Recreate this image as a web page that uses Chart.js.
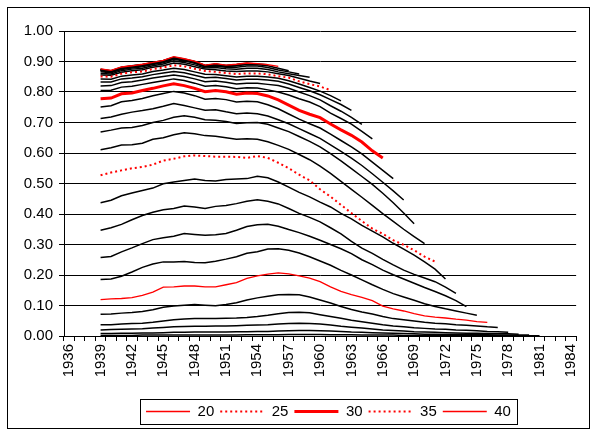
<!DOCTYPE html>
<html>
<head>
<meta charset="utf-8">
<script src="https://cdn.jsdelivr.net/npm/chart.js@4.4.0/dist/chart.umd.min.js"></script>
<style>
  html, body { margin: 0; padding: 0; background: #fff; }
</style>
</head>
<body>
<canvas id="chart" width="592" height="434"></canvas>
<script>
// x categories (one per year) and the years that get a label
var years = [1936,1937,1938,1939,1940,1941,1942,1943,1944,1945,1946,1947,1948,1949,1950,
  1951,1952,1953,1954,1955,1956,1957,1958,1959,1960,1961,1962,1963,1964,1965,1966,1967,
  1968,1969,1970,1971,1972,1973,1974,1975,1976,1977,1978,1979,1980,1981,1982,1983,1984];
var tickYears = [1936,1939,1942,1945,1948,1951,1954,1957,1960,1963,1966,1969,1972,1975,1978,1981,1984];
var legendAges = [20, 25, 30, 35, 40];
var firstYear = 1939; // every series starts here

// one series per age, values from 1939 on
var age15 = [0.002,0.002,0.002,0.002,0.003,0.003,0.003,0.003,0.003,0.003,0.003,0.003,0.003,0.003,0.004,0.004,0.004,0.004,0.005,0.005,0.005,0.005,0.004,0.004,0.004,0.003,0.003,0.003,0.003,0.002,0.002,0.002,0.002,0.002,0.002,0.002,0.001,0.001,0.001,0.001,0.001,0.001,0.001];
var age16 = [0.008,0.008,0.009,0.009,0.010,0.010,0.011,0.012,0.012,0.013,0.013,0.013,0.013,0.014,0.014,0.015,0.015,0.016,0.017,0.018,0.018,0.017,0.016,0.015,0.013,0.012,0.011,0.010,0.009,0.008,0.007,0.006,0.006,0.005,0.005,0.004,0.004,0.004,0.003,0.003,0.003,0.003];
var age17 = [0.020,0.021,0.022,0.023,0.024,0.026,0.028,0.030,0.031,0.032,0.032,0.033,0.033,0.034,0.035,0.036,0.037,0.039,0.041,0.042,0.041,0.039,0.036,0.032,0.029,0.026,0.023,0.020,0.018,0.016,0.014,0.013,0.012,0.011,0.010,0.009,0.009,0.008,0.007,0.007,0.006];
var age18 = [0.037,0.037,0.039,0.041,0.042,0.045,0.049,0.053,0.056,0.057,0.057,0.057,0.058,0.059,0.061,0.064,0.068,0.073,0.077,0.078,0.076,0.070,0.064,0.058,0.052,0.047,0.042,0.037,0.033,0.030,0.027,0.025,0.023,0.022,0.020,0.019,0.017,0.015,0.014,0.012];
var age19 = [0.071,0.072,0.075,0.077,0.080,0.086,0.094,0.098,0.101,0.103,0.101,0.099,0.103,0.109,0.118,0.125,0.130,0.135,0.136,0.135,0.128,0.118,0.108,0.097,0.087,0.079,0.072,0.064,0.057,0.053,0.049,0.045,0.042,0.040,0.037,0.035,0.033,0.030,0.028];
var age20 = [0.119,0.122,0.123,0.126,0.133,0.144,0.160,0.161,0.164,0.164,0.161,0.161,0.168,0.175,0.189,0.197,0.203,0.207,0.204,0.197,0.190,0.178,0.161,0.146,0.136,0.127,0.116,0.098,0.089,0.082,0.073,0.066,0.062,0.059,0.055,0.052,0.047,0.045];
var age21 = [0.185,0.187,0.196,0.210,0.225,0.236,0.243,0.243,0.244,0.241,0.240,0.245,0.252,0.260,0.271,0.276,0.285,0.286,0.281,0.272,0.260,0.246,0.232,0.215,0.200,0.184,0.168,0.153,0.139,0.128,0.117,0.106,0.097,0.089,0.082,0.075,0.068];
var age22 = [0.257,0.261,0.276,0.289,0.303,0.316,0.322,0.327,0.336,0.333,0.330,0.332,0.336,0.347,0.359,0.365,0.366,0.360,0.349,0.339,0.327,0.314,0.300,0.286,0.270,0.250,0.234,0.216,0.201,0.187,0.173,0.159,0.146,0.132,0.116,0.096];
var age23 = [0.347,0.355,0.366,0.381,0.395,0.406,0.414,0.418,0.426,0.423,0.418,0.425,0.428,0.434,0.442,0.447,0.442,0.433,0.418,0.402,0.389,0.374,0.355,0.335,0.310,0.288,0.271,0.251,0.233,0.216,0.202,0.190,0.178,0.160,0.140];
var age24 = [0.437,0.445,0.460,0.469,0.477,0.485,0.499,0.505,0.510,0.515,0.510,0.508,0.513,0.515,0.516,0.524,0.519,0.505,0.488,0.471,0.456,0.439,0.423,0.402,0.384,0.363,0.344,0.325,0.304,0.285,0.265,0.243,0.219,0.187];
var age25 = [0.527,0.536,0.543,0.550,0.554,0.562,0.575,0.581,0.589,0.592,0.590,0.588,0.588,0.587,0.584,0.590,0.584,0.568,0.550,0.529,0.510,0.481,0.457,0.430,0.403,0.377,0.352,0.335,0.314,0.299,0.281,0.260,0.244];
var age26 = [0.611,0.617,0.626,0.627,0.632,0.645,0.650,0.660,0.666,0.663,0.657,0.655,0.650,0.645,0.647,0.645,0.637,0.625,0.612,0.595,0.578,0.557,0.533,0.507,0.481,0.455,0.428,0.401,0.376,0.350,0.326,0.303];
var age27 = [0.669,0.675,0.682,0.684,0.690,0.700,0.707,0.717,0.722,0.717,0.709,0.707,0.703,0.697,0.699,0.700,0.694,0.682,0.670,0.654,0.638,0.620,0.598,0.574,0.549,0.523,0.497,0.468,0.437,0.403,0.368];
var age28 = [0.713,0.718,0.727,0.734,0.739,0.745,0.753,0.762,0.756,0.748,0.740,0.742,0.735,0.729,0.731,0.729,0.721,0.709,0.696,0.680,0.664,0.648,0.627,0.605,0.583,0.559,0.532,0.504,0.476,0.446];
var age29 = [0.751,0.755,0.768,0.772,0.779,0.788,0.795,0.802,0.797,0.788,0.776,0.779,0.775,0.767,0.770,0.768,0.758,0.745,0.728,0.711,0.696,0.682,0.662,0.641,0.620,0.597,0.570,0.543,0.516];
var age30 = [0.778,0.780,0.794,0.797,0.805,0.812,0.820,0.827,0.821,0.812,0.801,0.805,0.801,0.793,0.797,0.795,0.787,0.774,0.757,0.740,0.727,0.716,0.695,0.676,0.658,0.636,0.607,0.584];
var age31 = [0.805,0.806,0.816,0.819,0.825,0.831,0.837,0.843,0.838,0.829,0.819,0.821,0.817,0.811,0.814,0.813,0.807,0.800,0.790,0.778,0.767,0.752,0.731,0.713,0.695,0.671,0.646];
var age32 = [0.820,0.821,0.831,0.834,0.839,0.846,0.851,0.856,0.851,0.843,0.834,0.836,0.832,0.826,0.829,0.829,0.825,0.821,0.812,0.800,0.788,0.774,0.755,0.737,0.717,0.694];
var age33 = [0.833,0.833,0.843,0.846,0.850,0.857,0.862,0.867,0.863,0.855,0.847,0.848,0.844,0.839,0.842,0.842,0.839,0.835,0.826,0.815,0.804,0.791,0.775,0.759,0.740];
var age34 = [0.843,0.842,0.852,0.856,0.859,0.867,0.872,0.878,0.874,0.866,0.858,0.857,0.853,0.849,0.852,0.852,0.849,0.845,0.837,0.826,0.815,0.803,0.788,0.771];
var age35 = [0.851,0.850,0.860,0.865,0.867,0.875,0.880,0.888,0.884,0.876,0.869,0.866,0.862,0.859,0.861,0.861,0.858,0.852,0.847,0.835,0.826,0.818,0.806];
var age36 = [0.856,0.855,0.865,0.870,0.873,0.881,0.886,0.895,0.891,0.883,0.875,0.873,0.869,0.867,0.869,0.869,0.866,0.860,0.854,0.845,0.836,0.828];
var age37 = [0.861,0.859,0.870,0.875,0.878,0.886,0.892,0.902,0.897,0.889,0.879,0.880,0.876,0.875,0.878,0.878,0.874,0.866,0.860,0.854,0.848];
var age38 = [0.866,0.863,0.874,0.879,0.883,0.890,0.896,0.907,0.902,0.894,0.883,0.885,0.881,0.881,0.885,0.885,0.880,0.872,0.866,0.859];
var age39 = [0.870,0.866,0.878,0.883,0.887,0.894,0.901,0.912,0.906,0.898,0.886,0.889,0.885,0.886,0.890,0.889,0.886,0.878,0.870];
var age40 = [0.876,0.871,0.882,0.886,0.891,0.897,0.904,0.916,0.909,0.901,0.888,0.893,0.888,0.891,0.895,0.893,0.890,0.884];
var age41 = [0.875,0.870,0.881,0.886,0.890,0.897,0.903,0.914,0.908,0.900,0.887,0.892,0.887,0.890,0.894,0.892,0.889];
var age42 = [0.874,0.869,0.880,0.885,0.889,0.896,0.902,0.913,0.907,0.899,0.886,0.891,0.886,0.889,0.893,0.891];
var age43 = [0.873,0.868,0.879,0.884,0.888,0.895,0.901,0.912,0.906,0.898,0.885,0.890,0.885,0.888,0.892];
var age44 = [0.872,0.867,0.878,0.883,0.887,0.894,0.900,0.911,0.905,0.897,0.884,0.889,0.884,0.887];
var age45 = [0.871,0.866,0.877,0.882,0.886,0.893,0.899,0.910,0.904,0.896,0.883,0.888,0.883];

// red ones first so they are drawn on top and lead the legend
var lines = [
  [20, age20], [25, age25], [30, age30], [35, age35], [40, age40],
  [15, age15], [16, age16], [17, age17], [18, age18], [19, age19],
  [21, age21], [22, age22], [23, age23], [24, age24],
  [26, age26], [27, age27], [28, age28], [29, age29],
  [31, age31], [32, age32], [33, age33], [34, age34],
  [36, age36], [37, age37], [38, age38], [39, age39],
  [41, age41], [42, age42], [43, age43], [44, age44], [45, age45]
];

function lineStyle(age) {
  if (age == 30) return {color: '#ff0000', width: 3, dash: []};
  if (age == 25 || age == 35) return {color: '#ff0000', width: 2, dash: [2, 3]};
  if (age == 20 || age == 40) return {color: '#ff0000', width: 1.3, dash: []};
  return {color: '#000000', width: 1.5, dash: []};
}

var pad = [];
for (var i = 0; i < years.indexOf(firstYear); i++) pad.push(null);

var datasets = [];
for (var j = 0; j < lines.length; j++) {
  var st = lineStyle(lines[j][0]);
  datasets.push({
    label: String(lines[j][0]),
    data: pad.concat(lines[j][1]),
    borderColor: st.color,
    backgroundColor: st.color,
    borderWidth: st.width,
    borderDash: st.dash,
    pointRadius: 0,
    fill: false,
    tension: 0
  });
}

// outer frame, legend frame, and move the legend under the plot area
var framePlugin = {
  id: 'frames',
  afterLayout: function(chart) {
    chart.legend.left += 33;
    chart.legend.right += 33;
  },
  afterDraw: function(chart) {
    var ctx = chart.ctx;
    ctx.save();
    ctx.strokeStyle = '#000';
    ctx.lineWidth = 1;
    ctx.setLineDash([]);
    ctx.strokeRect(7.5, 7.5, 582, 421);
    var boxes = chart.legend.legendHitBoxes;
    if (boxes && boxes.length) {
      var first = boxes[0], last = boxes[boxes.length - 1];
      var l = Math.round(first.left - 6) + 0.5;
      var r = Math.round(last.left + last.width + 6) + 0.5;
      var t = Math.round(first.top - 5) + 0.5;
      var b = Math.round(first.top + first.height + 5) + 0.5;
      ctx.strokeRect(l, t, r - l, b - t);
    }
    ctx.restore();
  }
};

var font = {family: "'Liberation Sans', Arial, sans-serif", size: 15};

new Chart(document.getElementById('chart'), {
  type: 'line',
  data: {labels: years, datasets: datasets},
  plugins: [framePlugin],
  options: {
    responsive: false,
    animation: false,
    events: [],
    layout: {padding: {left: 8, top: 31, right: 9, bottom: 5}},
    plugins: {
      tooltip: {enabled: false},
      title: {display: false},
      legend: {
        display: true,
        position: 'bottom',
        labels: {
          color: '#000',
          font: font,
          usePointStyle: true,
          pointStyle: 'line',
          pointStyleWidth: 44,
          padding: 6,
          generateLabels: function(chart) {
            var items = Chart.defaults.plugins.legend.labels.generateLabels(chart);
            items.forEach(function(item) {
              var ds = chart.data.datasets[item.datasetIndex];
              item.lineDash = ds.borderDash;
              item.lineWidth = ds.borderWidth;
              item.strokeStyle = ds.borderColor;
            });
            return items;
          },
          filter: function(item) {
            return legendAges.indexOf(parseInt(item.text)) >= 0;
          }
        }
      }
    },
    scales: {
      x: {
        type: 'category',
        offset: true,
        afterFit: function(scale) { scale.height = 62; },
        grid: {offset: true, drawOnChartArea: false, drawTicks: true, tickLength: 5, color: '#000'},
        border: {color: '#000', width: 1},
        ticks: {
          autoSkip: false,
          minRotation: 90,
          maxRotation: 90,
          padding: 3,
          color: '#000',
          font: font,
          callback: function(val, idx) {
            return tickYears.indexOf(years[idx]) >= 0 ? String(years[idx]) : '';
          }
        }
      },
      y: {
        min: 0,
        max: 1,
        afterFit: function(scale) { scale.width = 56; },
        grid: {color: '#000', lineWidth: 1, tickLength: 5, drawTicks: true},
        border: {color: '#000', width: 1},
        ticks: {
          stepSize: 0.1,
          padding: 6,
          color: '#000',
          font: font,
          callback: function(v) { return v.toFixed(2); }
        }
      }
    }
  }
});
</script>
</body>
</html>
